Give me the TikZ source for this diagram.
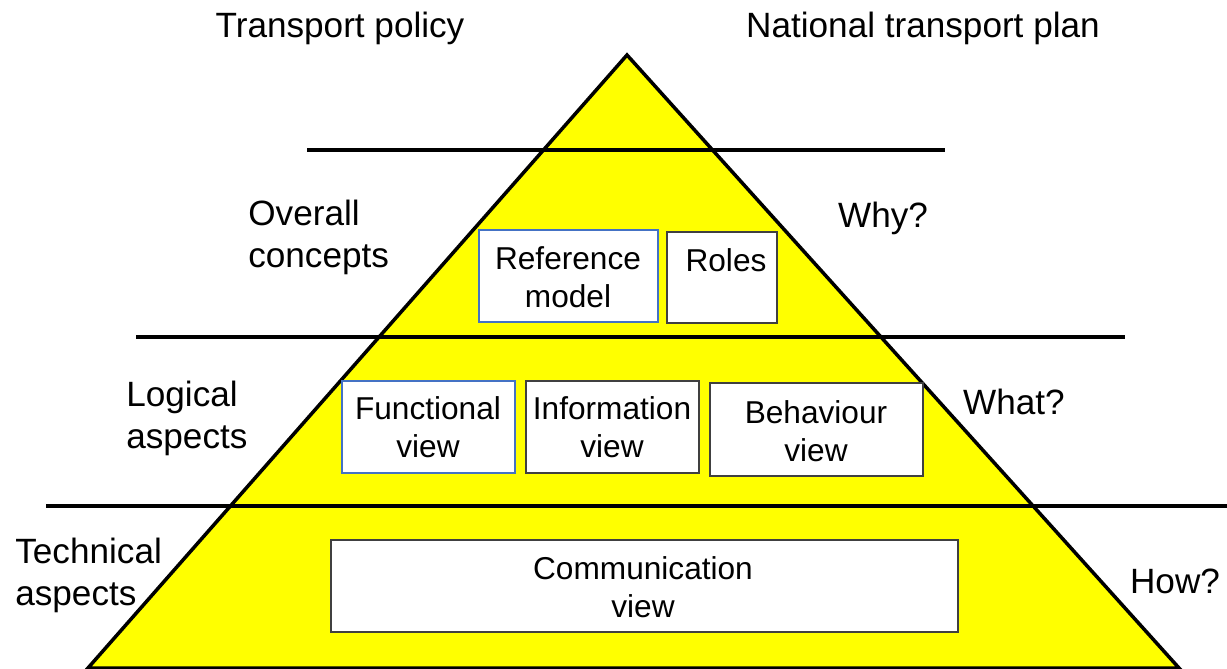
\documentclass[tikz,border=0pt]{standalone}
\usepackage{fontspec}
\setmainfont{Liberation Sans}
\definecolor{Y}{RGB}{255,255,0}
\definecolor{B}{RGB}{68,114,196}
\definecolor{K}{RGB}{64,64,64}

\begin{document}
\begin{tikzpicture}[x=0.02cm,y=-0.02cm,
  lbl/.style={inner sep=0pt,align=left,font=\fontsize{20}{24}\selectfont},
  btxt/.style={inner sep=0pt,align=center,font=\fontsize{18}{21.5}\selectfont}]
  \useasboundingbox (0,0) rectangle (1227,669);
  \filldraw[fill=Y,draw=black,line width=2pt] (627,55) -- (1179,668) -- (88,668) -- cycle;
  \draw[black, line width=2pt] (307,150) -- (945,150);
  \draw[black, line width=2pt] (136,337) -- (1125,337);
  \draw[black, line width=2pt] (46,506) -- (1227,506);
  % boxes
  \filldraw[fill=white,draw=B,line width=0.6pt] (479,230) rectangle (658,322);
  \node[btxt] (refm) at (568,277) {Reference\\model};
  \filldraw[fill=white,draw=K,line width=0.6pt] (667,232) rectangle (777,323);
  \node[btxt] (roles) at (726,260) {Roles};
  \filldraw[fill=white,draw=B,line width=0.6pt] (342,381) rectangle (515,473);
  \node[btxt] (func) at (428,427) {Functional\\view};
  \filldraw[fill=white,draw=K,line width=0.6pt] (526,381) rectangle (699,473);
  \node[btxt] (info) at (612,427) {Information\\view};
  \filldraw[fill=white,draw=K,line width=0.6pt] (710,383) rectangle (923,476);
  \node[btxt] (behav) at (816,431) {Behaviour\\view};
  \filldraw[fill=white,draw=K,line width=0.6pt] (331,540) rectangle (958,632);
  \node[btxt] (comm) at (643,587) {Communication\\view};
  % labels
  \node[lbl] (policy) at (340,28) {Transport policy};
  \node[lbl] (plan) at (923,28) {National transport plan};
  \node[lbl,anchor=west] (overall) at (248,237) {Overall\\concepts};
  \node[lbl,anchor=west] (logical) at (126,418) {Logical\\aspects};
  \node[lbl,anchor=west] (technical) at (15,575) {Technical\\aspects};
  \node[lbl] (why) at (883,218) {Why?};
  \node[lbl] (what) at (1014,402) {What?};
  \node[lbl] (how) at (1175,581) {How?};
\end{tikzpicture}
\end{document}
